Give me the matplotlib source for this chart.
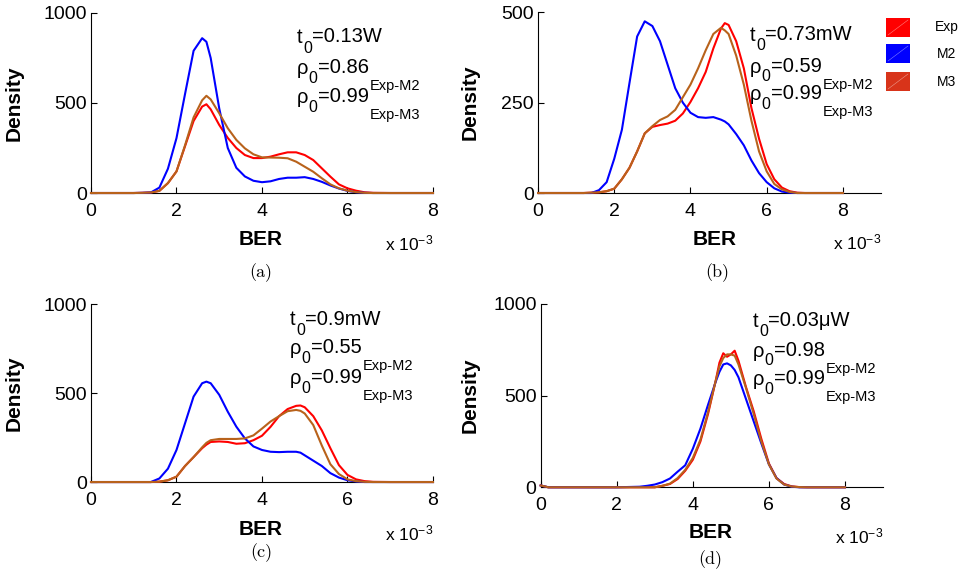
import matplotlib
matplotlib.use('Agg')
import matplotlib.pyplot as plt
from matplotlib.patches import Rectangle
from matplotlib.lines import Line2D

plt.rcParams['font.family'] = ['Liberation Sans', 'DejaVu Sans']
plt.rcParams['mathtext.default'] = 'regular'

# BER (x 1e-3) grids and densities
a_x = [0, 1.0, 1.2, 1.4, 1.6, 1.8, 2.0, 2.2, 2.4, 2.6, 2.7, 2.8, 3.0, 3.2, 3.4, 3.6, 3.8,
       4.0, 4.2, 4.4, 4.6, 4.8, 5.0, 5.2, 5.4, 5.6, 5.8, 6.0, 6.2, 6.4, 6.6, 7.0, 8.0]
a_exp = [0, 0, 1, 3, 12, 55, 120, 260, 400, 480, 493, 465, 378, 306, 250, 211, 194,
         194, 202, 215, 226, 226, 211, 183, 137, 91, 48, 26, 13, 4, 1, 0, 0]
a_m2 = [0, 0, 1, 3, 30, 135, 305, 550, 790, 860, 840, 750, 470, 250, 140, 92, 68,
        60, 65, 78, 85, 85, 88, 78, 62, 42, 25, 12, 4, 1, 0, 0, 0]
a_m3 = [0, 0, 1, 3, 12, 55, 120, 265, 420, 515, 540, 520, 443, 360, 295, 248, 215,
        198, 197, 196, 193, 174, 146, 118, 82, 48, 26, 13, 5, 1, 0, 0, 0]

b_x = [0, 1.0, 1.2, 1.4, 1.6, 1.8, 2.0, 2.2, 2.4, 2.6, 2.8, 3.0, 3.2, 3.4, 3.6, 3.8, 4.0,
       4.2, 4.4, 4.6, 4.8, 4.9, 5.0, 5.2, 5.4, 5.6, 5.8, 6.0, 6.2, 6.4, 6.6, 6.8, 7.0, 8.0]
b_exp = [0, 0, 0, 1, 2, 5, 12, 38, 70, 115, 165, 183, 188, 192, 200, 220, 252,
         290, 335, 400, 455, 470, 465, 420, 345, 235, 150, 80, 38, 15, 5, 1, 0, 0]
b_m2 = [0, 0, 0, 0, 8, 30, 95, 175, 305, 433, 475, 462, 420, 355, 290, 250, 222,
        210, 208, 210, 203, 198, 190, 163, 132, 90, 55, 30, 13, 4, 1, 0, 0, 0]
b_m3 = [0, 0, 0, 1, 2, 5, 12, 38, 70, 115, 165, 185, 202, 212, 230, 265, 300,
        345, 395, 440, 457, 450, 440, 380, 300, 200, 115, 60, 25, 10, 3, 0, 0, 0]

c_x = [0, 1.0, 1.2, 1.4, 1.6, 1.8, 2.0, 2.2, 2.4, 2.6, 2.7, 2.8, 3.0, 3.2, 3.4, 3.6, 3.8,
       4.0, 4.2, 4.4, 4.6, 4.8, 4.9, 5.0, 5.2, 5.4, 5.6, 5.8, 6.0, 6.2, 6.4, 6.6, 7.0, 8.0]
c_exp = [0, 0, 0, 0, 2, 10, 30, 90, 140, 190, 210, 225, 228, 225, 215, 218, 235,
         260, 310, 370, 410, 428, 430, 420, 370, 290, 190, 95, 40, 15, 5, 1, 0, 0]
c_m2 = [0, 0, 0, 0, 20, 75, 180, 330, 480, 555, 564, 555, 490, 395, 311, 245, 200,
        180, 170, 168, 170, 170, 165, 150, 120, 90, 50, 25, 10, 3, 0, 0, 0, 0]
c_m3 = [0, 0, 0, 0, 2, 10, 30, 90, 140, 195, 220, 235, 242, 242, 242, 245, 262,
        300, 340, 370, 398, 405, 400, 385, 320, 205, 100, 45, 15, 5, 1, 0, 0, 0]

d_x = [0, 0.2, 1.0, 2.0, 2.6, 2.8, 3.0, 3.2, 3.4, 3.6, 3.8, 4.0, 4.2, 4.4, 4.6, 4.7,
       4.8, 4.9, 5.0, 5.1, 5.2, 5.4, 5.6, 5.8, 6.0, 6.2, 6.4, 6.6, 6.8, 7.0, 8.0]
d_exp = [10, 0, 0, 0, 0, 0, 0, 8, 18, 45, 90, 150, 250, 400, 580, 680,
         731, 712, 725, 745, 690, 545, 415, 265, 130, 50, 18, 5, 1, 0, 0]
d_m2 = [10, 0, 0, 0, 3, 8, 15, 28, 48, 85, 120, 210, 320, 450, 575, 630,
        670, 676, 665, 640, 600, 480, 360, 240, 125, 50, 15, 3, 0, 0, 0]
d_m3 = [10, 0, 0, 0, 0, 0, 0, 8, 20, 50, 95, 160, 260, 410, 580, 660,
        705, 725, 725, 718, 670, 540, 400, 250, 125, 48, 15, 4, 1, 0, 0]

t0_vals = ['=0.13W', '=0.73mW', '=0.9mW', '=0.03\u03bcW']
rho_m2 = ['=0.86', '=0.59', '=0.55', '=0.98']
rho_m3 = ['=0.99', '=0.99', '=0.99', '=0.99']
captions = ['(a)', '(b)', '(c)', '(d)']
series_names = ['Exp', 'M2', 'M3']

c_exp_col = '#ff0000'
c_m2_col = '#0000ff'
c_m3_col = '#b8621b'

MAIN = 14.5
SUB0 = 11.5
SUBL = 10.5


def chain(ax, x, y, parts):
    # parts: (string, fontsize, drop below main baseline in px)
    t = ax.text(x, y, parts[0][0], transform=ax.transAxes, fontsize=parts[0][1],
                va='baseline')
    prev, prev_fs, prev_dy = t, parts[0][1], parts[0][2]
    for s, fs, dy in parts[1:]:
        off = 0.212 * prev_fs - (dy - prev_dy) * 0.72
        prev = ax.annotate(s, xy=(1, 0), xycoords=prev, xytext=(0.3, off),
                           textcoords='offset points', fontsize=fs, va='baseline')
        prev_fs, prev_dy = fs, dy


fig = plt.figure(figsize=(9.66, 5.77), dpi=100)

# axes rects (figure fraction)
rects = [[0.0942, 0.6655, 0.354, 0.312],
         [0.557, 0.6655, 0.355, 0.3132],
         [0.0942, 0.1646, 0.354, 0.3085],
         [0.5597, 0.1555, 0.3544, 0.3177]]
xmax = [8, 9, 8, 9]
ymax = [1000, 500, 1000, 1000]
yticks = [[0, 500, 1000], [0, 250, 500], [0, 500, 1000], [0, 500, 1000]]
data = [(a_x, a_exp, a_m2, a_m3), (b_x, b_exp, b_m2, b_m3),
        (c_x, c_exp, c_m2, c_m3), (d_x, d_exp, d_m2, d_m3)]
txt_x = [0.602, 0.618, 0.582, 0.62]
txt_y = [(0.833, 0.661, 0.50), (0.843, 0.666, 0.515), (0.88, 0.72, 0.55), (0.876, 0.713, 0.558)]
ylab_x = [-0.225, -0.198, -0.225, -0.206]
xlab = [(0.497, -0.26), (0.516, -0.255), (0.497, -0.264), (0.495, -0.248)]
xexp_y = [-0.32, -0.31, -0.326, -0.304]
cap_pos = [(261, 273), (717, 273), (261, 553), (710, 560)]

for i in range(4):
    ax = fig.add_axes(rects[i])
    x, e, m2, m3 = data[i]
    ax.plot(x, e, color=c_exp_col, lw=1.5, clip_on=False, zorder=3)
    ax.plot(x, m2, color=c_m2_col, lw=1.5, clip_on=False, zorder=3)
    ax.plot(x, m3, color=c_m3_col, lw=1.5, clip_on=False, zorder=3)
    ax.set_xlim(0, xmax[i])
    ax.set_ylim(0, ymax[i])
    ax.set_xticks([0, 2, 4, 6, 8])
    ax.set_yticks(yticks[i])
    ax.spines['top'].set_visible(False)
    ax.spines['right'].set_visible(False)
    ax.tick_params(direction='in', length=4, labelsize=14)
    ax.tick_params(axis='x', pad=7)
    ax.tick_params(axis='y', pad=3)
    ax.set_xlabel('BER', fontsize=15, fontweight='bold', va='center')
    ax.xaxis.set_label_coords(*xlab[i])
    ax.set_ylabel('Density', fontsize=15, fontweight='bold', va='center')
    ax.yaxis.set_label_coords(ylab_x[i], 0.5)
    ax.text(1.0, xexp_y[i], 'x 10$^{-3}$', transform=ax.transAxes, ha='right',
            va='baseline', fontsize=12.5)
    ty = txt_y[i]
    chain(ax, txt_x[i], ty[0], [('t', MAIN, 0), ('0', SUB0, 10), (t0_vals[i], MAIN, 0)])
    chain(ax, txt_x[i], ty[1], [('\u03c1', MAIN, 0), ('0', SUB0, 9), (rho_m2[i], MAIN, 0),
                                ('Exp-M2', SUBL, 17)])
    chain(ax, txt_x[i], ty[2], [('\u03c1', MAIN, 0), ('0', SUB0, 9), (rho_m3[i], MAIN, 0),
                                ('Exp-M3', SUBL, 17)])
    cx, cy = cap_pos[i]
    fig.text(cx / 966, 1 - cy / 577, captions[i], family='cmr10', fontsize=13,
             ha='center', va='center')

# legend boxes
leg_cols = ['#ff0000', '#0000ff', '#d8341a']
leg_y = [18, 44, 72]
for col, name, y0 in zip(leg_cols, series_names, leg_y):
    x0, w, h = 886, 24, 19
    fig.add_artist(Rectangle((x0 / 966, 1 - (y0 + h) / 577), w / 966, h / 577,
                             transform=fig.transFigure, facecolor=col, edgecolor='none'))
    fig.add_artist(Line2D([(x0 + 2) / 966, (x0 + w - 2) / 966],
                          [1 - (y0 + h - 2) / 577, 1 - (y0 + 2) / 577],
                          transform=fig.transFigure, color='white', lw=0.4, alpha=0.5))
    fig.text(947 / 966, 1 - (y0 + h / 2) / 577, name, fontsize=10, ha='center', va='center')

fig.savefig('out.png', dpi=100)
